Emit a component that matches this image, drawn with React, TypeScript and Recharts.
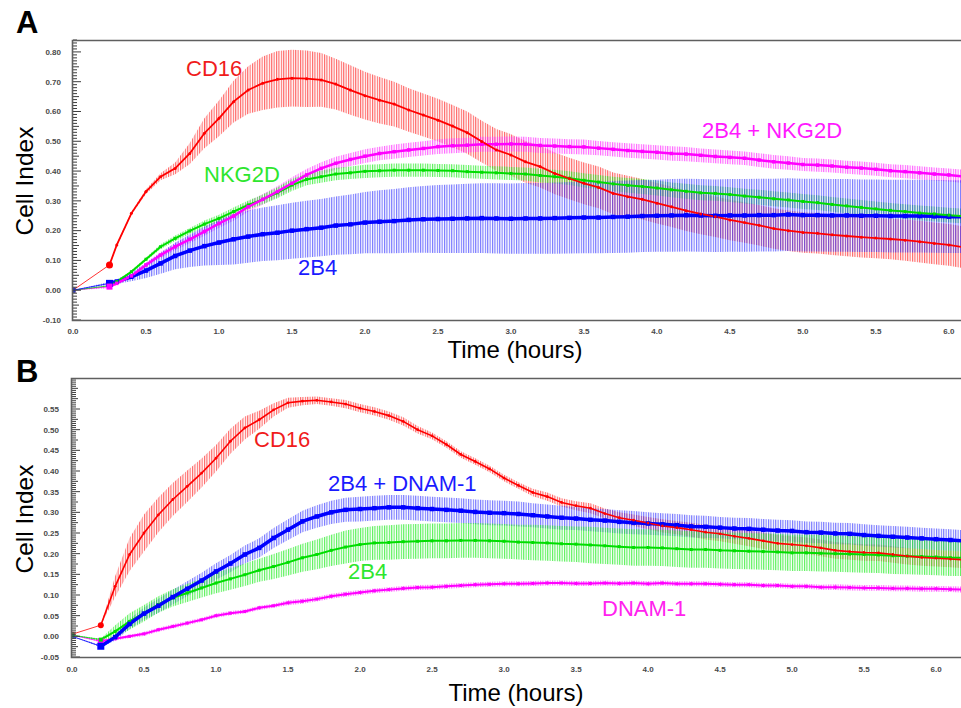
import React from 'react'
import { ComposedChart, Line, Area, XAxis, YAxis } from 'recharts'

// ---- Panel A: time (hours) and cell index readings ----
const timesA = [0, 0.25, 0.3, 0.4, 0.5, 0.6, 0.7, 0.8, 0.9, 1.0, 1.1, 1.2, 1.3, 1.4, 1.5, 1.6, 1.7, 1.8, 1.9, 2.0,
  2.1, 2.2, 2.3, 2.4, 2.5, 2.6, 2.7, 2.8, 2.9, 3.0, 3.1, 3.2, 3.3, 3.4, 3.5, 3.6, 3.7, 3.8, 3.9, 4.0,
  4.1, 4.2, 4.3, 4.4, 4.5, 4.6, 4.7, 4.8, 4.9, 5.0, 5.1, 5.2, 5.3, 5.4, 5.5, 5.6, 5.7, 5.8, 5.9, 6.0, 6.1]

const cd16A = [0, 0.085, 0.152, 0.258, 0.331, 0.381, 0.409, 0.459, 0.527, 0.577, 0.633, 0.672, 0.695, 0.708, 0.712, 0.710, 0.706, 0.692, 0.672, 0.653,
  0.638, 0.625, 0.605, 0.588, 0.571, 0.551, 0.529, 0.499, 0.471, 0.454, 0.431, 0.415, 0.392, 0.375, 0.359, 0.345, 0.325, 0.314, 0.305, 0.292,
  0.280, 0.267, 0.256, 0.247, 0.236, 0.227, 0.218, 0.207, 0.200, 0.194, 0.191, 0.186, 0.182, 0.178, 0.175, 0.172, 0.168, 0.163, 0.157, 0.152, 0.144]
const cd16AErr = [0, 0, 0.005, 0.005, 0.008, 0.012, 0.02, 0.035, 0.05, 0.06, 0.07, 0.08, 0.09, 0.095, 0.095, 0.095, 0.09, 0.085, 0.083, 0.08,
  0.078, 0.075, 0.073, 0.072, 0.072, 0.071, 0.071, 0.07, 0.07, 0.07, 0.07, 0.07, 0.07, 0.07, 0.07, 0.07, 0.07, 0.07, 0.068, 0.068,
  0.068, 0.068, 0.068, 0.068, 0.068, 0.068, 0.068, 0.068, 0.068, 0.068, 0.068, 0.068, 0.068, 0.068, 0.068, 0.068, 0.069, 0.07, 0.07, 0.07, 0.07]

const nkg2dA = [0, 0.015, 0.029, 0.062, 0.104, 0.146, 0.174, 0.199, 0.222, 0.241, 0.264, 0.286, 0.305, 0.327, 0.353, 0.372, 0.381, 0.390, 0.394, 0.399,
  0.401, 0.403, 0.403, 0.403, 0.402, 0.401, 0.398, 0.396, 0.394, 0.392, 0.390, 0.385, 0.381, 0.376, 0.369, 0.363, 0.357, 0.352, 0.348, 0.343,
  0.337, 0.332, 0.327, 0.325, 0.321, 0.316, 0.312, 0.307, 0.303, 0.298, 0.294, 0.288, 0.283, 0.278, 0.273, 0.268, 0.264, 0.259, 0.256, 0.252, 0.249]
const nkg2dAErr = [0, 0, 0.003, 0.005, 0.006, 0.008, 0.01, 0.01, 0.012, 0.012, 0.014, 0.015, 0.016, 0.018, 0.02, 0.02, 0.02, 0.021, 0.021, 0.022,
  0.022, 0.022, 0.022, 0.022, 0.022, 0.022, 0.022, 0.022, 0.022, 0.022, 0.022, 0.023, 0.023, 0.023, 0.024, 0.024, 0.024, 0.025, 0.025, 0.025,
  0.025, 0.025, 0.025, 0.025, 0.025, 0.025, 0.025, 0.025, 0.025, 0.025, 0.025, 0.025, 0.025, 0.025, 0.025, 0.025, 0.025, 0.025, 0.025, 0.025, 0.025]

const b2b4A = [0, 0.023, 0.029, 0.045, 0.066, 0.090, 0.115, 0.133, 0.148, 0.160, 0.171, 0.180, 0.188, 0.193, 0.200, 0.205, 0.210, 0.217, 0.221, 0.227,
  0.230, 0.232, 0.236, 0.238, 0.239, 0.240, 0.241, 0.242, 0.241, 0.240, 0.241, 0.241, 0.242, 0.243, 0.244, 0.244, 0.246, 0.247, 0.249, 0.250,
  0.251, 0.252, 0.251, 0.250, 0.251, 0.251, 0.252, 0.252, 0.254, 0.252, 0.252, 0.251, 0.251, 0.250, 0.250, 0.249, 0.249, 0.249, 0.248, 0.247, 0.247]
const b2b4AErr = [0, 0.005, 0.008, 0.015, 0.025, 0.035, 0.045, 0.055, 0.065, 0.075, 0.085, 0.088, 0.09, 0.092, 0.094, 0.095, 0.096, 0.098, 0.1, 0.103,
  0.106, 0.108, 0.11, 0.112, 0.114, 0.115, 0.116, 0.117, 0.118, 0.118, 0.119, 0.119, 0.12, 0.12, 0.12, 0.12, 0.121, 0.121, 0.121, 0.121,
  0.122, 0.122, 0.122, 0.122, 0.122, 0.122, 0.122, 0.122, 0.122, 0.122, 0.122, 0.122, 0.122, 0.122, 0.122, 0.122, 0.122, 0.122, 0.122, 0.122, 0.122]

const b2b4nkgA = [0, 0.012, 0.023, 0.048, 0.085, 0.118, 0.146, 0.171, 0.197, 0.224, 0.249, 0.280, 0.305, 0.331, 0.359, 0.387, 0.409, 0.426, 0.439, 0.450,
  0.459, 0.465, 0.471, 0.476, 0.482, 0.485, 0.487, 0.490, 0.490, 0.491, 0.490, 0.486, 0.484, 0.482, 0.481, 0.477, 0.473, 0.469, 0.466, 0.463,
  0.459, 0.457, 0.453, 0.449, 0.446, 0.443, 0.437, 0.431, 0.427, 0.422, 0.420, 0.417, 0.413, 0.410, 0.406, 0.401, 0.398, 0.394, 0.390, 0.387, 0.382]
const b2b4nkgAErr = [0, 0.005, 0.005, 0.006, 0.008, 0.01, 0.012, 0.013, 0.014, 0.015, 0.016, 0.017, 0.018, 0.018, 0.02, 0.02, 0.021, 0.022, 0.022, 0.023,
  0.023, 0.024, 0.024, 0.024, 0.025, 0.025, 0.025, 0.025, 0.025, 0.025, 0.025, 0.025, 0.025, 0.025, 0.025, 0.024, 0.024, 0.024, 0.024, 0.024,
  0.024, 0.024, 0.023, 0.023, 0.023, 0.023, 0.023, 0.023, 0.023, 0.022, 0.022, 0.022, 0.022, 0.022, 0.022, 0.022, 0.022, 0.022, 0.022, 0.022, 0.022]

// ---- Panel B ----
const timesB = [0, 0.2, 0.3, 0.4, 0.5, 0.6, 0.7, 0.8, 0.9, 1.0, 1.1, 1.2, 1.3, 1.4, 1.5, 1.6, 1.7, 1.8, 1.9, 2.0,
  2.1, 2.2, 2.3, 2.4, 2.5, 2.6, 2.7, 2.8, 2.9, 3.0, 3.1, 3.2, 3.3, 3.4, 3.5, 3.6, 3.7, 3.8, 3.9, 4.0,
  4.1, 4.2, 4.3, 4.4, 4.5, 4.6, 4.7, 4.8, 4.9, 5.0, 5.1, 5.2, 5.3, 5.4, 5.5, 5.6, 5.7, 5.8, 5.9, 6.0, 6.1, 6.2]

const cd16B = [0.005, 0.027, 0.121, 0.198, 0.250, 0.294, 0.331, 0.363, 0.395, 0.431, 0.472, 0.504, 0.524, 0.548, 0.565, 0.569, 0.571, 0.567, 0.562, 0.552,
  0.544, 0.534, 0.520, 0.500, 0.485, 0.464, 0.440, 0.423, 0.405, 0.383, 0.365, 0.348, 0.338, 0.324, 0.316, 0.310, 0.297, 0.287, 0.281, 0.274,
  0.267, 0.263, 0.258, 0.252, 0.248, 0.242, 0.237, 0.231, 0.225, 0.222, 0.219, 0.214, 0.208, 0.205, 0.203, 0.202, 0.198, 0.194, 0.191, 0.189, 0.187, 0.185]
const cd16BErr = [0, 0, 0.025, 0.04, 0.045, 0.042, 0.04, 0.038, 0.035, 0.032, 0.03, 0.028, 0.022, 0.016, 0.012, 0.01, 0.009, 0.009, 0.01, 0.01,
  0.01, 0.01, 0.01, 0.009, 0.008, 0.008, 0.008, 0.008, 0.008, 0.008, 0.008, 0.009, 0.01, 0.01, 0.011, 0.012, 0.012, 0.013, 0.014, 0.015,
  0.016, 0.016, 0.017, 0.018, 0.018, 0.018, 0.019, 0.02, 0.02, 0.02, 0.02, 0.02, 0.02, 0.02, 0.02, 0.02, 0.02, 0.02, 0.02, 0.02, 0.02, 0.02]

const dnamB = [0.003, -0.012, -0.006, 0.000, 0.006, 0.016, 0.024, 0.032, 0.040, 0.050, 0.056, 0.060, 0.069, 0.074, 0.081, 0.085, 0.090, 0.097, 0.102, 0.106,
  0.110, 0.113, 0.116, 0.118, 0.119, 0.121, 0.123, 0.125, 0.126, 0.127, 0.127, 0.128, 0.129, 0.129, 0.128, 0.128, 0.129, 0.128, 0.129, 0.127,
  0.129, 0.127, 0.127, 0.127, 0.126, 0.125, 0.125, 0.123, 0.123, 0.121, 0.121, 0.119, 0.119, 0.118, 0.117, 0.117, 0.116, 0.116, 0.115, 0.115, 0.114, 0.113]
const dnamBErr = [0, 0.003, 0.004, 0.004, 0.005, 0.005, 0.005, 0.005, 0.005, 0.005, 0.005, 0.005, 0.005, 0.005, 0.006, 0.006, 0.006, 0.006, 0.006, 0.006,
  0.006, 0.006, 0.006, 0.006, 0.006, 0.006, 0.006, 0.006, 0.006, 0.006, 0.006, 0.006, 0.006, 0.006, 0.006, 0.006, 0.006, 0.006, 0.006, 0.006,
  0.006, 0.006, 0.006, 0.006, 0.006, 0.006, 0.006, 0.006, 0.006, 0.006, 0.006, 0.006, 0.007, 0.007, 0.007, 0.007, 0.007, 0.007, 0.007, 0.007, 0.007, 0.007]

const b2b4B = [0.003, -0.008, 0.012, 0.036, 0.056, 0.077, 0.093, 0.105, 0.117, 0.129, 0.139, 0.149, 0.160, 0.169, 0.179, 0.190, 0.198, 0.208, 0.216, 0.222,
  0.226, 0.227, 0.229, 0.230, 0.231, 0.231, 0.232, 0.232, 0.231, 0.230, 0.228, 0.227, 0.226, 0.224, 0.223, 0.221, 0.219, 0.217, 0.215, 0.215,
  0.214, 0.212, 0.210, 0.210, 0.208, 0.207, 0.206, 0.205, 0.204, 0.202, 0.202, 0.201, 0.200, 0.199, 0.198, 0.197, 0.195, 0.194, 0.193, 0.192, 0.190, 0.190]
const b2b4BErr = [0, 0.003, 0.015, 0.02, 0.02, 0.02, 0.021, 0.022, 0.023, 0.025, 0.026, 0.027, 0.028, 0.03, 0.032, 0.034, 0.036, 0.038, 0.04, 0.04,
  0.041, 0.042, 0.042, 0.042, 0.042, 0.042, 0.042, 0.042, 0.042, 0.042, 0.042, 0.043, 0.043, 0.043, 0.043, 0.044, 0.044, 0.044, 0.044, 0.044,
  0.044, 0.044, 0.044, 0.044, 0.044, 0.044, 0.044, 0.044, 0.044, 0.044, 0.044, 0.044, 0.044, 0.044, 0.044, 0.044, 0.044, 0.044, 0.044, 0.044, 0.044, 0.044]

const b2b4dnamB = [0.000, -0.024, -0.002, 0.030, 0.055, 0.074, 0.095, 0.115, 0.135, 0.157, 0.176, 0.198, 0.214, 0.238, 0.258, 0.278, 0.290, 0.300, 0.306, 0.308,
  0.310, 0.312, 0.312, 0.310, 0.308, 0.306, 0.304, 0.301, 0.299, 0.298, 0.296, 0.293, 0.290, 0.287, 0.285, 0.282, 0.280, 0.277, 0.275, 0.273,
  0.271, 0.269, 0.266, 0.265, 0.263, 0.261, 0.260, 0.258, 0.256, 0.255, 0.252, 0.251, 0.249, 0.248, 0.245, 0.243, 0.241, 0.239, 0.237, 0.235, 0.233, 0.231]
const b2b4dnamBErr = [0, 0.003, 0.008, 0.012, 0.015, 0.017, 0.018, 0.018, 0.019, 0.02, 0.021, 0.022, 0.023, 0.024, 0.025, 0.026, 0.027, 0.028, 0.029, 0.03,
  0.03, 0.03, 0.03, 0.03, 0.03, 0.03, 0.03, 0.03, 0.03, 0.03, 0.03, 0.029, 0.029, 0.029, 0.028, 0.028, 0.028, 0.028, 0.028, 0.027,
  0.027, 0.027, 0.027, 0.027, 0.026, 0.026, 0.026, 0.026, 0.026, 0.026, 0.026, 0.026, 0.026, 0.026, 0.026, 0.026, 0.026, 0.026, 0.026, 0.026, 0.026, 0.026]

// axis ticks
const xTicks = [0, 0.5, 1.0, 1.5, 2.0, 2.5, 3.0, 3.5, 4.0, 4.5, 5.0, 5.5, 6.0]
const yTicksA = [-0.1, 0, 0.1, 0.2, 0.3, 0.4, 0.5, 0.6, 0.7, 0.8]
const yTicksB = [-0.05, 0, 0.05, 0.1, 0.15, 0.2, 0.25, 0.3, 0.35, 0.4, 0.45, 0.5, 0.55]
const steps = (from: number, step: number, n: number) => Array.from({ length: n }, (_, i) => +(from + i * step).toFixed(4))
const minorA = steps(-0.1, 0.01, 95)
const minorB = steps(-0.05, 0.005, 135)

const FONT = "'Liberation Sans', Arial, Helvetica, sans-serif"

type Series = {
  key: string
  values: number[]
  errors: number[]
  color: string
  hatch: string
  width: number
  shape: 'circle' | 'square'
  dot: number
  first: number
}

const seriesA: Series[] = [
  { key: 'cd16', values: cd16A, errors: cd16AErr, color: '#ff0000', hatch: 'url(#hRed)', width: 1.8, shape: 'circle', dot: 3, first: 7 },
  { key: 'nkg', values: b2b4nkgA, errors: b2b4nkgAErr, color: '#ff00ff', hatch: 'url(#hMag)', width: 2.5, shape: 'square', dot: 3.5, first: 6 },
  { key: 'nkg2d', values: nkg2dA, errors: nkg2dAErr, color: '#00dd00', hatch: 'url(#hGrn)', width: 2, shape: 'square', dot: 3, first: 4 },
  { key: 'b2b4', values: b2b4A, errors: b2b4AErr, color: '#0000ff', hatch: 'url(#hBlu)', width: 3.5, shape: 'square', dot: 4.5, first: 7 },
]
const lineOrderA = ['b2b4', 'nkg2d', 'nkg', 'cd16']

const seriesB: Series[] = [
  { key: 'cd16', values: cd16B, errors: cd16BErr, color: '#ff0000', hatch: 'url(#hRed)', width: 1.6, shape: 'circle', dot: 2.8, first: 6 },
  { key: 'dnam', values: dnamB, errors: dnamBErr, color: '#ff00ff', hatch: 'url(#hMag)', width: 2, shape: 'square', dot: 3, first: 6 },
  { key: 'b2b4dnam', values: b2b4dnamB, errors: b2b4dnamBErr, color: '#0000ff', hatch: 'url(#hBlu)', width: 3.5, shape: 'square', dot: 4.5, first: 7 },
  { key: 'b2b4', values: b2b4B, errors: b2b4BErr, color: '#00dd00', hatch: 'url(#hGrn)', width: 2, shape: 'square', dot: 3, first: 4 },
]
const lineOrderB = ['dnam', 'b2b4', 'b2b4dnam', 'cd16']

function buildRows(times: number[], series: Series[]) {
  return times.map((t, i) => {
    const row: Record<string, any> = { t }
    series.forEach(s => {
      const v = s.values[i]
      const e = s.errors[i]
      row[s.key] = i === 0 ? null : v
      row[s.key + 'Lead'] = i <= 1 ? v : null
      row[s.key + 'Band'] = [v - e, v + e]
    })
    return row
  })
}

function markDot(s: Series) {
  return (p: any) => {
    const { cx, cy, index } = p
    if (cx == null || cy == null || !isFinite(cy)) return <g key={'d' + index} />
    const size = index === 1 ? s.first : s.dot
    if (s.shape === 'circle') return <circle key={'d' + index} cx={cx} cy={cy} r={size / 2} fill={s.color} />
    return <rect key={'d' + index} x={cx - size / 2} y={cy - size / 2} width={size} height={size} fill={s.color} />
  }
}

function leadDot(s: Series) {
  return (p: any) => {
    const { cx, cy, index } = p
    if (index !== 0 || cx == null || cy == null) return <g key={'l' + index} />
    return <rect key={'l' + index} x={cx - 2.5} y={cy - 2.5} width={5} height={5} fill={s.color} fillOpacity={0.6} />
  }
}

const near = (a: number, list: number[]) => list.some(b => Math.abs(a - b) < 1e-6)

type PanelProps = {
  rows: Record<string, any>[]
  series: Series[]
  order: string[]
  xMax: number
  yDomain: [number, number]
  yTicks: number[]
  top: number
  margin: { top: number; right: number; bottom: number; left: number }
  yWidth: number
  labelGap: number
  xGap: number
}

const tickStyle = { fontSize: 8, fontWeight: 700, fill: '#4a4a4a', fontFamily: FONT }

function Panel(p: PanelProps) {
  const byKey = Object.fromEntries(p.series.map(s => [s.key, s]))
  return (
    <div style={{ position: 'absolute', left: 0, top: p.top }}>
      <ComposedChart width={1000} height={350} data={p.rows} margin={p.margin}>
        <XAxis dataKey="t" type="number" domain={[0, p.xMax]} ticks={xTicks} interval={0} allowDataOverflow
          tickFormatter={(v: number) => v.toFixed(1)} tick={tickStyle} tickLine={false} axisLine={false}
          tickSize={0} tickMargin={p.xGap} height={20} />
        <YAxis yAxisId="v" type="number" domain={p.yDomain} ticks={p.yTicks} interval={0} allowDataOverflow
          tickFormatter={(v: number) => v.toFixed(2)} tick={tickStyle} tickLine={false} axisLine={false}
          tickSize={0} tickMargin={p.labelGap} width={p.yWidth} />
        {p.series.map(s => (
          <Area key={s.key + 'Band'} yAxisId="v" type="linear" dataKey={s.key + 'Band'} stroke="none"
            fill={s.hatch} fillOpacity={1} isAnimationActive={false} activeDot={false} dot={false} />
        ))}
        {p.series.map(s => (
          <Line key={s.key + 'Lead'} yAxisId="v" type="linear" dataKey={s.key + 'Lead'} stroke={s.color}
            strokeWidth={1} strokeOpacity={0.8} dot={leadDot(s)} activeDot={false} isAnimationActive={false} />
        ))}
        {p.order.map(k => byKey[k]).map(s => (
          <Line key={s.key} yAxisId="v" type="linear" dataKey={s.key} stroke={s.color} strokeWidth={s.width}
            dot={markDot(s)} activeDot={false} isAnimationActive={false} />
        ))}
      </ComposedChart>
    </div>
  )
}

const rowsA = buildRows(timesA, seriesA)
const rowsB = buildRows(timesB, seriesB)

function Hatch({ id, color, opacity }: { id: string; color: string; opacity: number }) {
  return (
    <pattern id={id} patternUnits="userSpaceOnUse" width={2.4} height={6}>
      <rect x={0} y={0} width={1.1} height={6} fill={color} fillOpacity={opacity} />
    </pattern>
  )
}

// inward tick comb along the left frame (same box and domain as the panel's plot area)
function Comb({ left, top, bottom, domain, minor, majors, midStep }:
  { left: number; top: number; bottom: number; domain: [number, number]; minor: number[]; majors: number[]; midStep: number }) {
  const [lo, hi] = domain
  return (
    <g>
      {minor.map(v => {
        const y = top + ((hi - v) / (hi - lo)) * (bottom - top)
        const q = v / midStep
        const len = near(v, majors) ? 8 : Math.abs(q - Math.round(q)) < 1e-6 ? 6 : 4
        return <line key={v} x1={left} x2={left + len} y1={y} y2={y} stroke="#3c3c3c" strokeWidth={1} />
      })}
    </g>
  )
}

function Overlay() {
  const frame = { fill: 'none', stroke: '#5f5f5f', strokeWidth: 1.6 }
  const lab = { fontFamily: FONT, fontSize: 22 }
  return (
    <svg width={961} height={708} style={{ position: 'absolute', left: 0, top: 0, pointerEvents: 'none' }}>
      <defs>
        <Hatch id="hRed" color="#ff3030" opacity={0.75} />
        <Hatch id="hMag" color="#ff30ff" opacity={0.75} />
        <Hatch id="hGrn" color="#30ee30" opacity={0.8} />
        <Hatch id="hBlu" color="#3a3aff" opacity={0.7} />
      </defs>
      <Comb left={73} top={40} bottom={320} domain={[-0.1, 0.84]} minor={minorA} majors={yTicksA} midStep={0.05} />
      <Comb left={72} top={378} bottom={657} domain={[-0.05, 0.625]} minor={minorB} majors={yTicksB} midStep={0.025} />
      <polyline points="961,40.5 72.5,40.5 72.5,320.5 961,320.5" {...frame} />
      <polyline points="961,378.5 71.5,378.5 71.5,657.5 961,657.5" {...frame} />

      <text x={16} y={33} fontFamily={FONT} fontSize={31} fontWeight={700}>A</text>
      <text x={16} y={382} fontFamily={FONT} fontSize={31} fontWeight={700}>B</text>

      <text transform="translate(33,181) rotate(-90)" textAnchor="middle" fontFamily={FONT} fontSize={24.5}>Cell Index</text>
      <text transform="translate(33,519) rotate(-90)" textAnchor="middle" fontFamily={FONT} fontSize={24.5}>Cell Index</text>
      <text x={515} y={358} textAnchor="middle" fontFamily={FONT} fontSize={24}>Time (hours)</text>
      <text x={516} y={701} textAnchor="middle" fontFamily={FONT} fontSize={24}>Time (hours)</text>

      <text x={186} y={76} fill="#f01c1c" {...lab}>CD16</text>
      <text x={204} y={182} fill="#2ee62e" {...lab}>NKG2D</text>
      <text x={298} y={275} fill="#1a1aff" {...lab}>2B4</text>
      <text x={702} y={138} fill="#ff1aff" {...lab}>2B4 + NKG2D</text>

      <text x={254} y={447} fill="#f01c1c" {...lab}>CD16</text>
      <text x={328} y={491} fill="#1a1aff" {...lab}>2B4 + DNAM-1</text>
      <text x={348} y={579} fill="#2ee62e" {...lab}>2B4</text>
      <text x={602} y={616} fill="#ff22ee" {...lab}>DNAM-1</text>
    </svg>
  )
}

export default function App() {
  return (
    <div style={{ position: 'fixed', left: 0, top: 0, width: 961, height: 708, overflow: 'hidden', background: '#fff' }}>
      <Panel rows={rowsA} series={seriesA} order={lineOrderA} xMax={6.35} yDomain={[-0.1, 0.84]}
        yTicks={yTicksA} top={0}
        margin={{ top: 40, right: 0, bottom: 10, left: 0 }} yWidth={73} labelGap={12} xGap={8} />
      <Panel rows={rowsB} series={seriesB} order={lineOrderB} xMax={6.444} yDomain={[-0.05, 0.625]}
        yTicks={yTicksB} top={340}
        margin={{ top: 38, right: 0, bottom: 13, left: 0 }} yWidth={72} labelGap={13} xGap={9} />
      <Overlay />
    </div>
  )
}
